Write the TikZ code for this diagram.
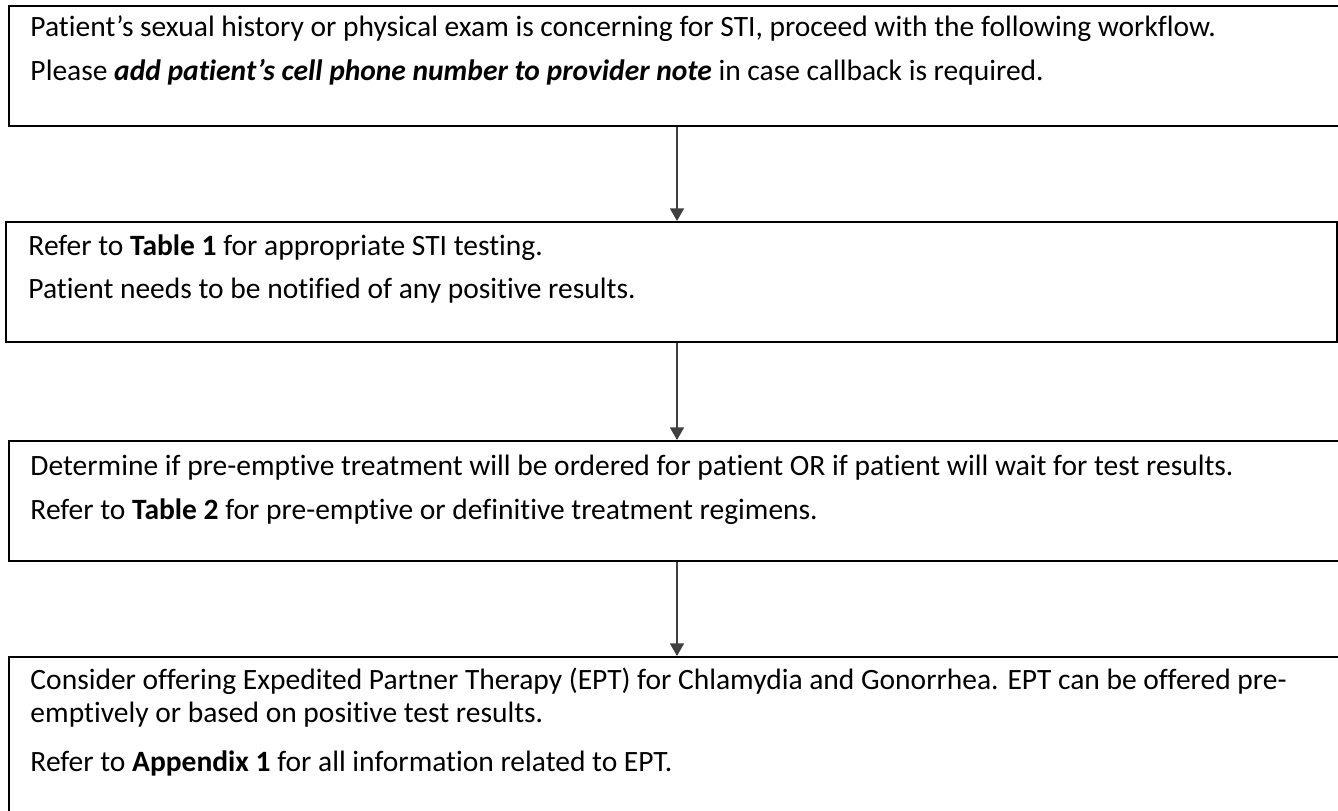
\documentclass[tikz,border=0pt]{standalone}
\usepackage{fontspec}
\setmainfont{Carlito}[Ligatures=NoCommon]
\usetikzlibrary{arrows.meta}
\begin{document}
\begin{tikzpicture}[x=0.4pt,y=-0.4pt,
  stepbox/.style={draw=black,line width=0.85pt,inner sep=0pt,fill=none},
  txt/.style={anchor=base west,inner sep=0pt,font=\fontsize{11.8pt}{14pt}\selectfont},
  arr/.style={draw=black!75,line width=0.55pt,-{Triangle[width=5.6pt,length=5pt]}}]
\clip (0,0) rectangle (1338,811);
\fill[white] (0,0) rectangle (1338,811);
\node[stepbox,minimum width=534.4pt,minimum height=48pt] (b1) at (677,66) {};
\node[stepbox,minimum width=532.4pt,minimum height=48pt] (b2) at (671.5,282) {};
\node[stepbox,minimum width=534.4pt,minimum height=48pt] (b3) at (677,501) {};
\node[stepbox,minimum width=534.4pt,minimum height=65.2pt] (b4) at (677,738.5) {};
\node[txt] (t11) at (30,37) {Patient’s sexual history or physical exam is concerning for STI, proceed with the following workflow.};
\node[txt] (t12) at (30,81) {Please \textbf{\textit{add patient’s cell phone number to provider note}} in case callback is required.};
\node[txt] (t21) at (28,256) {Refer to \textbf{Table 1} for appropriate STI testing.};
\node[txt] (t22) at (28,299) {Patient needs to be notified of any positive results.};
\node[txt] (t31) at (30,475) {Determine if pre-emptive treatment will be ordered for patient OR if patient will wait for test results.};
\node[txt] (t32) at (30,519) {Refer to \textbf{Table 2} for pre-emptive or definitive treatment regimens.};
\node[txt] (t41) at (30,689) {Consider offering Expedited Partner Therapy (EPT) for Chlamydia and Gonorrhea. EPT can be offered pre-};
\node[txt] (t42) at (30,722) {emptively or based on positive test results.};
\node[txt] (t43) at (30,771) {Refer to \textbf{Appendix 1} for all information related to EPT.};
\coordinate (ax) at (677,0);
\draw[arr] (b1.south -| ax) -- (b2.north -| ax);
\draw[arr] (b2.south -| ax) -- (b3.north -| ax);
\draw[arr] (b3.south -| ax) -- (b4.north -| ax);
\end{tikzpicture}
\end{document}
